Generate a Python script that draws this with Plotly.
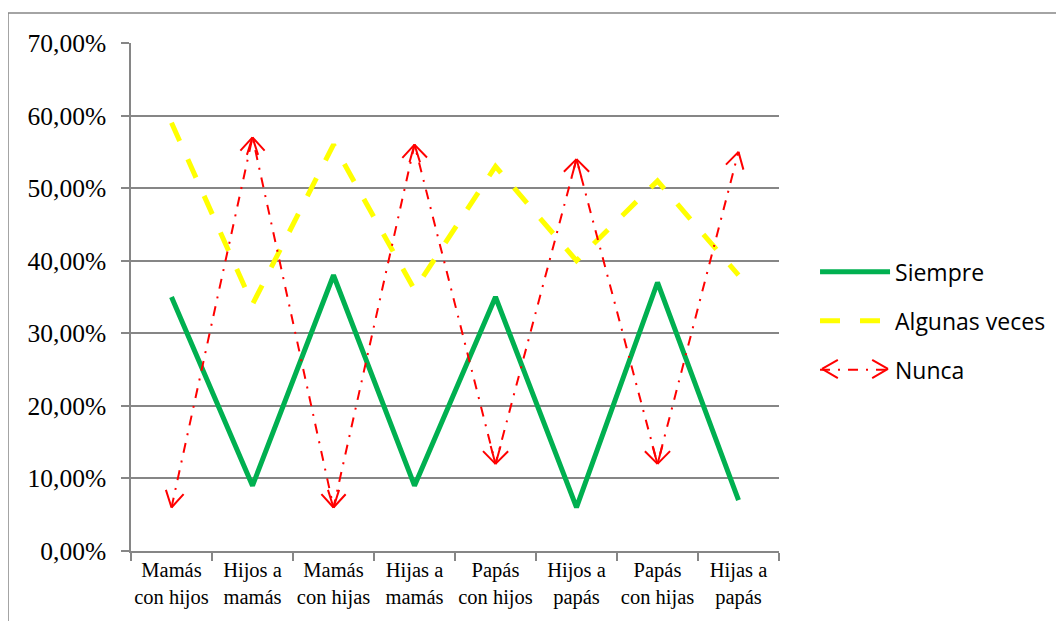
import math
import plotly.graph_objects as go

categories = ["Mamás<br>con hijos", "Hijos a<br>mamás", "Mamás<br>con hijas", "Hijas a<br>mamás",
              "Papás<br>con hijos", "Hijos a<br>papás", "Papás<br>con hijas", "Hijas a<br>papás"]
siempre = [0.35, 0.09, 0.38, 0.09, 0.35, 0.06, 0.37, 0.07]
algunas = [0.59, 0.34, 0.56, 0.36, 0.53, 0.40, 0.51, 0.38]
nunca = [0.06, 0.57, 0.06, 0.56, 0.12, 0.54, 0.12, 0.55]
y_ticks = [0, 0.1, 0.2, 0.3, 0.4, 0.5, 0.6, 0.7]

GRAY = "#868686"
RED = "#FF0000"

# figure geometry (the page body adds an 8px offset)
W, H = 1056, 613
ML, MT = 123, 35
PLOT_W, PLOT_H = 648, 508
Y_MAX = 0.7

fig = go.Figure()
fig.add_trace(go.Scatter(x=categories, y=siempre, name="Siempre", mode="lines",
                         line=dict(color="#00B050", width=5), legendgroup="a"))
fig.add_trace(go.Scatter(x=categories, y=algunas, name="Algunas veces", mode="lines",
                         line=dict(color="#FFFF00", width=5, dash="20px,20px"), legendgroup="b"))
fig.add_trace(go.Scatter(x=categories, y=nunca, name="Nunca", mode="lines",
                         line=dict(color=RED, width=2, dash="10px,8px,2px,8px"), legendgroup="c"))

# open arrowheads at both ends of every Nunca segment, drawn as two short arms
px_per_cat = PLOT_W / len(categories)
px_per_unit = PLOT_H / Y_MAX
ARM = 20
HALF = math.radians(30)


def arms(xref, yref, x, y, ux, uy):
    out = []
    for s in (1, -1):
        c, sn = math.cos(s * HALF), math.sin(s * HALF)
        dx = ux * c - uy * sn
        dy = ux * sn + uy * c
        out.append(dict(x=x, y=y, xref=xref, yref=yref, ax=ARM * dx, ay=ARM * dy,
                        showarrow=True, arrowhead=0, arrowwidth=2, arrowcolor=RED,
                        standoff=0, startstandoff=0, text=""))
    return out


annotations = []
for i in range(len(nunca) - 1):
    for head, tail in ((i + 1, i), (i, i + 1)):
        dx = (tail - head) * px_per_cat
        dy = -(nunca[tail] - nunca[head]) * px_per_unit
        n = math.hypot(dx, dy)
        annotations += arms("x", "y", head, nunca[head], dx / n, dy / n)

# chevrons on the legend sample of "Nunca"
LEG_Y = 0.3583
annotations += arms("paper", "paper", 1.0664, LEG_Y, 1, 0)
annotations += arms("paper", "paper", 1.1682, LEG_Y, -1, 0)

fig.update_layout(
    width=W, height=H,
    margin=dict(l=ML, r=W - ML - PLOT_W, t=MT, b=H - MT - PLOT_H, autoexpand=False),
    paper_bgcolor="white", plot_bgcolor="white",
    separators=",.",
    font=dict(family="Liberation Serif", color="black"),
    showlegend=True,
    legend=dict(x=1.0556, y=0.453, xanchor="left", yanchor="middle",
                font=dict(family="Open Sans", size=23, color="black"),
                itemwidth=70, tracegroupgap=16, bgcolor="rgba(0,0,0,0)"),
    annotations=annotations,
    shapes=[dict(type="rect", xref="paper", yref="paper",
                 x0=(0 - ML) / PLOT_W, x1=(W + 20 - ML) / PLOT_W,
                 y0=(MT + PLOT_H - H - 20) / PLOT_H, y1=(MT + PLOT_H - 5) / PLOT_H,
                 line=dict(color=GRAY, width=1.5), fillcolor="rgba(0,0,0,0)", layer="below")],
)
fig.update_xaxes(type="category", range=[-0.5, len(categories) - 0.5], autorange=False,
                 tickson="boundaries", ticks="outside", ticklen=8, tickangle=0,
                 tickcolor=GRAY, tickwidth=1.5, showline=True, linecolor=GRAY, linewidth=1.5,
                 showgrid=False, tickfont=dict(family="Liberation Serif", size=20.5, color="black"))
fig.update_yaxes(range=[0, Y_MAX], autorange=False, tickvals=y_ticks, tickformat=".2%",
                 ticks="outside", ticklen=8, tickcolor=GRAY, tickwidth=1.5, showline=True,
                 linecolor=GRAY, linewidth=1.5, showgrid=True, gridcolor=GRAY, gridwidth=1.5,
                 zeroline=False, ticklabelstandoff=10,
                 tickfont=dict(family="Liberation Serif", size=25.5, color="black"))

fig.write_html("out.html")
